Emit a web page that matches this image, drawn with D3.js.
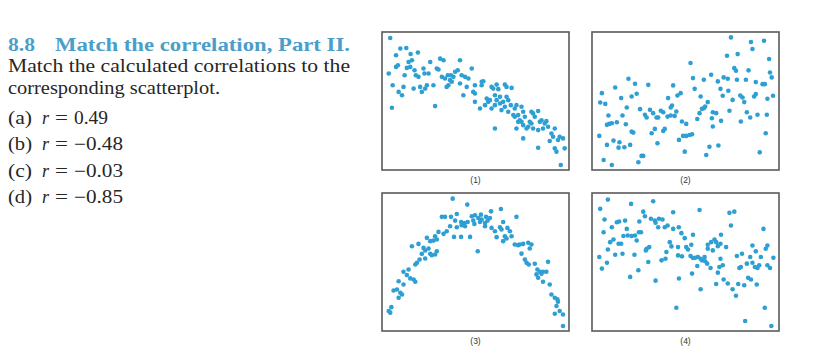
<!DOCTYPE html>
<html>
<head>
<meta charset="utf-8">
<script src="https://cdn.jsdelivr.net/npm/d3@7"></script>
<style>
  body { margin: 0; background: #fff; }
  svg { display: block; }
</style>
</head>
<body>
<div id="chart"></div>
<script>
// values, each panel on a 0-100 scale
const panel1 = [[4.4,95.7],[9.8,88.0],[13.0,88.4],[7.5,83.1],[15.3,84.1],[19.2,85.1],[3.6,69.9],[7.5,74.7],[8.5,75.9],[14.2,78.3],[16.0,79.5],[13.3,74.0],[15.1,74.7],[12.1,68.7],[17.4,72.3],[18.1,68.7],[19.5,67.5],[22.2,73.5],[22.7,69.9],[24.9,69.9],[25.8,78.3],[29.3,73.5],[30.2,72.8],[31.1,80.7],[32.9,79.5],[41.7,79.5],[48.0,73.5],[5.7,61.4],[11.5,60.2],[16.9,59.0],[20.4,60.2],[24.0,61.4],[23.1,59.0],[27.5,61.4],[32.0,67.5],[33.7,66.3],[35.2,68.7],[36.9,68.7],[38.2,67.5],[39.1,71.2],[40.5,72.3],[42.6,68.7],[44.4,67.5],[46.2,66.3],[36.4,65.1],[37.3,63.9],[35.5,61.4],[34.6,60.2],[41.7,62.7],[45.3,60.2],[49.7,61.4],[53.3,63.9],[54.2,64.3],[53.3,61.4],[8.9,56.6],[10.7,54.2],[21.3,56.6],[43.5,54.2],[48.8,56.6],[49.7,55.4],[58.6,60.2],[59.5,59.0],[61.3,61.9],[62.2,58.6],[65.7,61.9],[66.6,60.2],[69.3,59.5],[49.7,49.4],[52.4,44.6],[55.1,47.0],[56.8,49.4],[57.7,50.6],[56.0,51.8],[60.4,54.2],[61.3,50.6],[63.1,53.0],[64.8,49.4],[66.6,53.0],[67.5,50.6],[68.9,47.0],[71.0,44.6],[71.9,47.0],[74.6,45.8],[75.5,42.2],[72.8,39.8],[71.0,38.6],[76.4,38.6],[79.9,42.2],[80.8,41.0],[83.5,42.7],[81.7,38.6],[79.0,34.9],[79.9,33.7],[84.4,34.9],[85.3,36.1],[87.9,35.4],[87.0,33.7],[88.8,31.3],[86.1,30.1],[83.5,28.9],[80.8,30.1],[78.2,31.3],[75.5,32.5],[73.7,36.1],[74.6,34.9],[72.8,34.9],[70.2,39.8],[67.5,42.2],[65.7,45.8],[63.9,43.4],[60.4,47.0],[63.1,48.2],[58.6,44.6],[92.4,30.1],[90.6,26.5],[91.5,24.1],[95.0,24.1],[96.8,22.9],[94.1,21.7],[89.7,21.0],[83.5,16.1],[92.4,15.7],[93.3,13.3],[97.7,15.7],[95.6,3.6],[5.3,45.1],[28.4,46.3],[60.4,30.1],[75.5,22.9],[71.9,30.1],[77.3,30.1]];

const panel2 = [[74.3,96.1],[85.0,92.7],[92.0,93.7],[85.8,87.7],[77.9,84.0],[72.2,82.8],[94.7,80.4],[52.7,77.5],[76.1,73.8],[77.0,71.9],[83.7,72.2],[19.5,66.1],[12.4,59.8],[23.0,62.5],[30.1,61.7],[43.4,61.3],[54.0,66.6],[59.8,65.4],[63.7,69.0],[67.3,64.2],[70.4,67.1],[72.6,66.1],[77.5,65.4],[82.3,65.4],[87.6,63.7],[91.2,62.2],[92.4,62.2],[95.2,70.7],[96.1,67.1],[5.3,55.7],[4.4,48.9],[7.1,47.9],[15.6,52.1],[21.2,53.3],[23.9,55.2],[40.7,52.1],[45.7,54.0],[47.4,55.7],[54.9,58.8],[58.1,53.3],[61.9,49.2],[68.7,58.8],[69.9,53.8],[72.9,57.4],[75.2,50.8],[79.3,54.0],[80.5,52.5],[81.4,49.2],[87.6,55.0],[86.7,53.3],[93.8,51.6],[96.8,53.8],[8.8,39.5],[8.0,32.7],[9.2,33.4],[10.6,33.9],[13.3,34.6],[16.3,39.5],[18.6,45.3],[25.7,44.1],[28.3,40.0],[29.2,38.0],[31.0,43.6],[32.7,41.2],[34.5,38.0],[35.4,38.0],[36.8,42.9],[38.1,41.9],[40.4,38.7],[42.1,39.5],[42.8,46.7],[44.2,39.2],[45.1,42.4],[48.1,35.1],[50.4,33.4],[56.3,37.0],[57.5,41.2],[58.8,44.3],[59.8,44.8],[60.5,46.0],[64.6,41.9],[64.1,37.5],[66.4,41.2],[64.6,31.5],[69.0,35.6],[73.5,42.9],[79.6,35.1],[82.8,41.9],[84.6,38.0],[88.5,40.0],[93.5,40.0],[21.2,27.8],[22.1,27.1],[31.9,26.6],[38.1,28.3],[38.9,29.8],[33.6,29.8],[3.9,24.7],[11.5,21.3],[14.7,20.1],[14.2,16.2],[17.3,16.5],[8.0,18.2],[20.4,18.2],[35.0,19.4],[46.5,21.8],[48.7,24.7],[50.4,24.7],[52.2,25.4],[53.5,25.9],[49.6,13.3],[62.8,16.9],[67.6,17.7],[61.1,10.9],[26.5,10.2],[27.4,10.2],[24.8,5.6],[6.2,7.3],[10.6,3.6],[92.9,26.6],[89.7,12.8],[18.1,33.2],[42.1,45.3]];

const panel3 = [[37.8,95.9],[45.6,91.6],[63.6,88.4],[58.3,86.7],[40.0,84.8],[49.7,83.9],[52.9,84.3],[55.6,82.7],[71.9,82.7],[32.0,82.7],[33.7,82.7],[36.9,82.7],[39.1,80.0],[42.3,79.0],[44.0,78.3],[45.8,79.0],[48.0,83.1],[48.8,80.0],[51.5,81.9],[53.3,80.7],[56.5,80.0],[57.7,81.9],[55.1,78.3],[64.8,79.0],[36.4,75.9],[40.0,75.2],[42.6,76.6],[44.4,75.9],[49.4,77.6],[52.4,79.0],[55.1,75.9],[58.6,74.7],[60.4,72.3],[63.1,75.2],[63.9,73.5],[67.1,74.7],[68.4,72.3],[30.2,71.8],[32.9,70.4],[34.6,72.3],[28.4,68.7],[24.0,67.5],[25.8,65.1],[27.5,65.5],[29.3,66.3],[19.5,63.1],[16.0,61.4],[22.2,60.2],[23.1,58.3],[24.9,59.8],[21.3,55.9],[25.8,55.9],[26.6,54.9],[28.4,55.4],[29.3,57.8],[20.1,51.8],[23.1,52.5],[18.7,49.4],[17.8,48.2],[38.5,68.2],[42.3,68.2],[47.1,68.2],[65.7,68.7],[69.3,68.7],[64.8,65.1],[66.6,67.0],[61.3,68.0],[51.2,57.8],[71.0,62.7],[72.8,62.2],[73.7,62.7],[75.5,63.1],[78.2,63.9],[79.9,62.7],[79.0,59.8],[74.6,56.1],[76.4,51.8],[77.3,49.4],[78.5,48.2],[81.7,48.7],[88.8,50.1],[83.1,44.6],[84.4,42.9],[86.1,42.9],[87.9,42.9],[85.3,41.4],[82.6,41.0],[83.5,38.6],[86.1,35.7],[11.5,42.9],[14.2,44.6],[13.3,40.5],[15.1,38.1],[16.9,37.3],[17.8,35.7],[8.9,36.1],[11.5,33.7],[8.0,30.1],[6.2,29.4],[9.8,27.7],[10.7,26.5],[8.9,24.1],[89.7,33.7],[90.6,26.5],[92.4,24.1],[93.8,22.9],[94.1,21.2],[93.3,18.1],[95.0,14.5],[92.4,12.5],[96.8,12.0],[96.8,3.6],[5.0,17.3],[3.6,14.5],[4.4,13.3]];

const panel4 = [[8.5,95.2],[20.9,92.1],[32.7,94.0],[4.4,88.5],[43.4,86.1],[57.5,87.7],[73.5,85.6],[76.1,86.5],[6.7,80.8],[27.4,86.5],[28.3,83.2],[25.3,79.3],[31.5,81.3],[33.6,80.0],[35.8,81.3],[37.7,80.8],[34.0,78.4],[35.4,75.2],[38.9,75.2],[40.4,76.4],[43.4,74.0],[46.4,75.2],[74.3,76.4],[91.7,74.0],[10.6,75.2],[13.3,78.8],[14.5,79.3],[17.7,80.0],[18.6,74.0],[6.2,71.6],[16.8,68.8],[19.1,69.2],[21.2,68.8],[23.0,69.2],[25.1,71.6],[26.2,71.6],[47.8,70.9],[49.6,67.3],[54.0,69.7],[69.0,69.7],[9.7,64.4],[11.5,66.3],[14.2,63.2],[15.6,63.2],[23.9,65.6],[41.6,64.4],[42.5,61.3],[46.0,60.8],[50.4,60.8],[51.3,59.1],[53.1,62.5],[61.9,62.5],[63.7,64.4],[65.5,66.3],[66.4,64.4],[67.3,61.5],[68.7,63.2],[61.9,59.6],[64.6,58.4],[71.7,60.8],[85.8,62.0],[93.8,62.0],[29.2,59.6],[30.6,60.8],[8.5,59.1],[12.4,55.3],[16.3,56.0],[22.7,55.3],[28.8,58.4],[39.8,57.2],[46.0,54.8],[48.1,54.1],[52.7,54.3],[54.0,52.9],[55.2,53.1],[56.6,53.6],[58.1,52.4],[58.8,51.2],[60.5,50.5],[61.6,48.8],[60.2,53.6],[68.7,52.4],[77.5,54.3],[80.2,56.0],[84.6,53.6],[87.6,57.7],[90.3,53.6],[92.9,59.6],[97.0,53.1],[3.9,53.6],[8.0,49.5],[5.3,45.2],[20.4,39.2],[24.8,44.0],[30.1,50.0],[37.2,51.2],[39.3,52.4],[56.3,47.1],[63.4,45.7],[68.1,46.4],[69.9,47.6],[78.8,45.7],[79.6,46.4],[82.8,48.8],[85.8,49.5],[87.1,46.4],[88.5,45.7],[89.4,47.6],[93.8,47.6],[95.2,45.7],[53.5,41.6],[67.3,42.3],[46.5,38.0],[34.0,36.5],[70.4,37.3],[66.4,34.1],[72.6,34.4],[75.2,30.3],[78.2,34.1],[81.4,33.2],[83.5,38.5],[85.0,37.3],[88.1,33.7],[77.0,25.5],[58.1,30.3],[45.1,16.8],[81.9,7.2],[92.4,16.8],[95.9,3.6]];

const panelLabels = ["(1)", "(2)", "(3)", "(4)"];

const titleNumber = "8.8";
const titleText = "Match the correlation, Part II.";
const bodyLines = ["Match the calculated correlations to the", "corresponding scatterplot."];
const choiceLetters = ["(a)", "(b)", "(c)", "(d)"];
const choiceValues = ["0.49", "\u22120.48", "\u22120.03", "\u22120.85"];

const width = 823, height = 355;
const svg = d3.select("#chart").append("svg")
  .attr("width", width)
  .attr("height", height);

// text on the left, stretched a bit to the wider book face of the original
const serif = "'Liberation Serif', 'DejaVu Serif', serif";
const text = svg.append("g").attr("font-family", serif);

const title = text.append("g")
  .attr("font-size", 18)
  .attr("font-weight", "bold")
  .attr("fill", "#4a9ec9");
title.append("text")
  .attr("x", 8).attr("y", 51)
  .attr("textLength", 27)
  .attr("lengthAdjust", "spacingAndGlyphs")
  .text(titleNumber);
title.append("text")
  .attr("x", 55).attr("y", 51)
  .attr("textLength", 295)
  .attr("lengthAdjust", "spacingAndGlyphs")
  .text(titleText);

text.append("text")
  .attr("x", 8).attr("y", 72)
  .attr("font-size", 18)
  .attr("fill", "#262626")
  .attr("textLength", 342)
  .attr("lengthAdjust", "spacingAndGlyphs")
  .text(bodyLines[0]);

text.append("text")
  .attr("x", 8).attr("y", 94)
  .attr("font-size", 18)
  .attr("fill", "#262626")
  .attr("textLength", 212)
  .attr("lengthAdjust", "spacingAndGlyphs")
  .text(bodyLines[1]);

const choiceY = d3.scalePoint().domain(choiceLetters).range([124, 203]);
const choices = text.selectAll("g.choice")
  .data(choiceLetters)
  .join("g")
  .attr("class", "choice")
  .attr("font-size", 18)
  .attr("fill", "#262626")
  .attr("transform", d => `translate(0, ${choiceY(d)})`);

choices.append("text").attr("x", 8)
  .attr("textLength", 24).attr("lengthAdjust", "spacingAndGlyphs")
  .text(d => d);
choices.append("text").attr("x", 42).attr("font-style", "italic").text("r");
choices.append("text").attr("x", 55)
  .attr("textLength", 13).attr("lengthAdjust", "spacingAndGlyphs")
  .text("=");
choices.append("text").attr("x", 74)
  .attr("textLength", (d, i) => choiceValues[i].startsWith("\u2212") ? 49 : 34)
  .attr("lengthAdjust", "spacingAndGlyphs")
  .text((d, i) => choiceValues[i]);

// scatterplot panels
const panels = [
  {data: panel1, x: 382, y: 32},
  {data: panel2, x: 592, y: 32},
  {data: panel3, x: 382, y: 193},
  {data: panel4, x: 592, y: 193}
];
const pw = 187, ph = 138;
const x = d3.scaleLinear().domain([0, 100]).range([0, pw]);
const y = d3.scaleLinear().domain([0, 100]).range([ph, 0]);

panels.forEach((p, i) => {
  const g = svg.append("g").attr("transform", `translate(${p.x}, ${p.y})`);

  g.append("rect")
    .attr("width", pw).attr("height", ph)
    .attr("fill", "#fff")
    .attr("stroke", "#5a5a5a")
    .attr("stroke-width", 1.6);

  g.selectAll("circle")
    .data(p.data)
    .join("circle")
    .attr("cx", d => x(d[0]))
    .attr("cy", d => y(d[1]))
    .attr("r", 2.3)
    .attr("fill", "#2e9fd2");

  g.append("text")
    .attr("x", pw / 2).attr("y", ph + 13)
    .attr("text-anchor", "middle")
    .attr("font-family", "'Liberation Sans', Arial, sans-serif")
    .attr("font-size", 8.5)
    .attr("fill", "#333")
    .text(panelLabels[i]);
});
</script>
</body>
</html>
